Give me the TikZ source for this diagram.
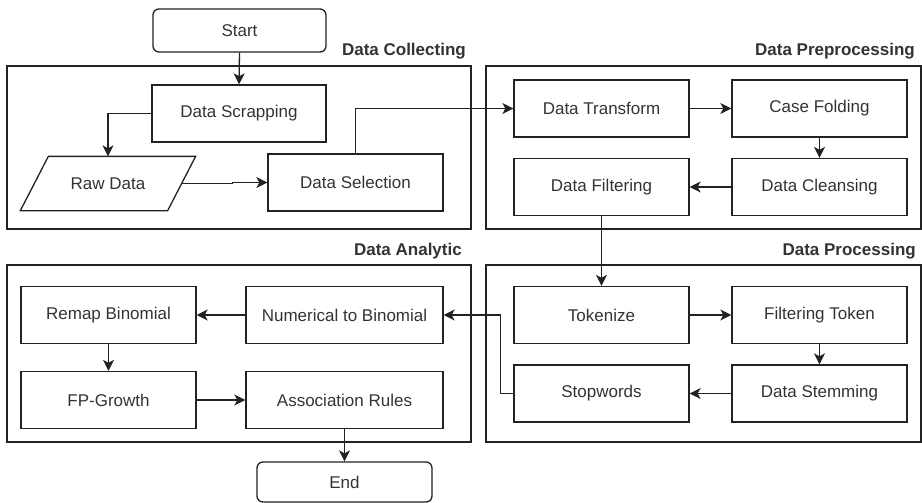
\documentclass[tikz,border=0pt]{standalone}
\usepackage{fontspec}
\setmainfont{Liberation Sans}
\usetikzlibrary{arrows.meta,calc}
\definecolor{linec}{HTML}{222222}
\definecolor{textc}{HTML}{333333}
\begin{document}
\begin{tikzpicture}[x=1pt,y=-1pt,
  box/.style={draw=linec, line width=1.3pt, minimum width=175pt, minimum height=57pt, inner sep=0pt,
    text=textc, font=\fontsize{17}{20}\selectfont},
  term/.style={box, rounded corners=6pt},
  group/.style={draw=linec, line width=1.3pt, inner sep=0pt},
  glabel/.style={anchor=base east, inner sep=0pt, text=textc, font=\fontsize{17}{20}\selectfont\bfseries},
  conn/.style={draw=linec, line width=1.3pt, -{Stealth[length=11pt,width=11pt,inset=3pt]}},
  plain/.style={draw=linec, line width=1.3pt}]
\useasboundingbox (0,0) rectangle (922,503);
% groups
\node[group, minimum width=464pt, minimum height=163pt] (gcollect) at (239,147.5) {};
\node[group, minimum width=435pt, minimum height=163pt] (gpre) at (703.5,147.5) {};
\node[group, minimum width=464pt, minimum height=177pt] (ganal) at (239,353.5) {};
\node[group, minimum width=435pt, minimum height=177pt] (gproc) at (703.5,353.5) {};
\node[glabel] (lcollect) at (466,56) {Data Collecting};
\node[glabel] (lpre) at (915,56) {Data Preprocessing};
\node[glabel] (lanal) at (462,255) {Data Analytic};
\node[glabel] (lproc) at (916,255) {Data Processing};
% nodes
\node[term, minimum width=173pt, minimum height=43pt] (start) at (239.5,30.5) {Start};
\node[box, minimum width=174pt] (scrap) at (239,113.5) {Data Scrapping};
\node[box, draw=none, minimum width=174pt, minimum height=53pt] (raw) at (108,183.5) {Raw Data};
\draw[plain] ([xshift=28pt]raw.north west) -- (raw.north east) -- ([xshift=-28pt]raw.south east) -- (raw.south west) -- cycle;
\coordinate (rawE) at ([xshift=-14pt]raw.east);
\node[box] (sel) at (355.5,182.5) {Data Selection};
\node[box] (transform) at (601.5,108.5) {Data Transform};
\node[box] (casefold) at (819.5,108.5) {Case Folding};
\node[box] (filter) at (601.5,187) {Data Filtering};
\node[box] (cleanse) at (819.5,187) {Data Cleansing};
\node[box] (token) at (601.5,315) {Tokenize};
\node[box] (filttok) at (819.5,315) {Filtering Token};
\node[box] (stop) at (601.5,393.5) {Stopwords};
\node[box] (stem) at (819.5,393.5) {Data Stemming};
\node[box] (remap) at (108.5,315) {Remap Binomial};
\node[box, minimum width=197pt] (numer) at (344.5,315) {Numerical to Binomial};
\node[box] (fp) at (108.5,400) {FP-Growth};
\node[box, minimum width=197pt] (assoc) at (344.5,400) {Association Rules};
\node[term, minimum height=40pt] (end) at (344.5,482) {End};
% connectors
\draw[conn] (start.south) -- (scrap.north);
\draw[conn] (scrap.west) -| (raw.north);
\draw[conn] (rawE) -- ++(51pt,0) |- (sel.west);
\draw[conn] (sel.north) |- (transform.west);
\draw[conn] (transform.east) -- (casefold.west);
\draw[conn] (casefold.south) -- (cleanse.north);
\draw[conn] (cleanse.west) -- (filter.east);
\draw[conn] (filter.south) -- (token.north);
\draw[conn] (token.east) -- (filttok.west);
\draw[conn] (filttok.south) -- (stem.north);
\draw[conn] (stem.west) -- (stop.east);
\draw[conn] (stop.west) -- ++(-13pt,0) |- (numer.east);
\draw[conn] (numer.west) -- (remap.east);
\draw[conn] (remap.south) -- (fp.north);
\draw[conn] (fp.east) -- (assoc.west);
\draw[conn] (assoc.south) -- (end.north);
\end{tikzpicture}
\end{document}
